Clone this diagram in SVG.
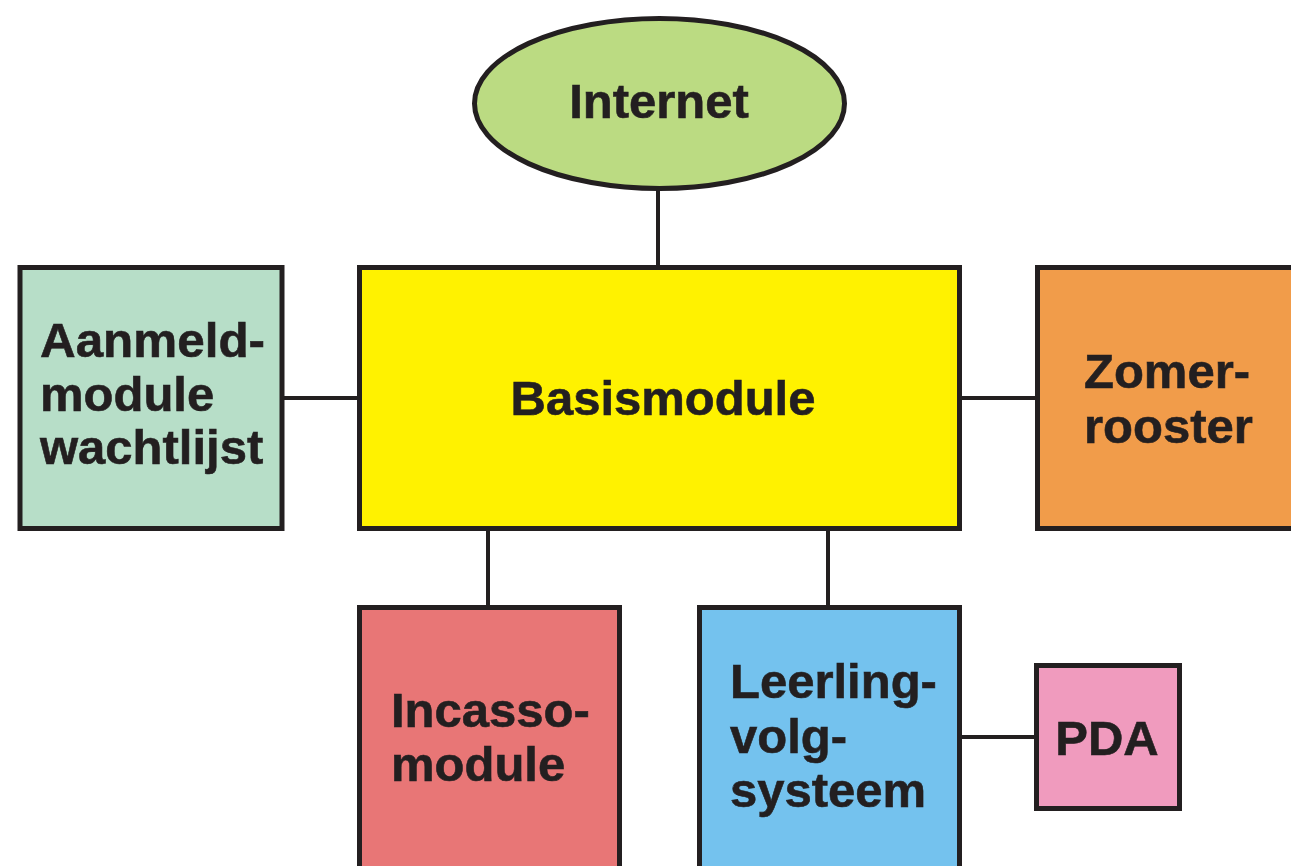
<svg xmlns="http://www.w3.org/2000/svg" width="1291" height="866" viewBox="0 0 1291 866">
<style>
.n{stroke:#231F20;stroke-width:5}
.c{stroke:#231F20;stroke-width:4;fill:none}
text{font-family:"Liberation Sans",Arial,sans-serif;font-weight:bold;font-size:49px;fill:#231F20;stroke:#231F20;stroke-width:0.6}
</style>
<rect width="1291" height="866" fill="#ffffff"/>
<g id="connectors">
<line class="c" x1="658" y1="190" x2="658" y2="267"/>
<line class="c" x1="282" y1="398" x2="359" y2="398"/>
<line class="c" x1="960" y1="398" x2="1037" y2="398"/>
<line class="c" x1="488" y1="529" x2="488" y2="607"/>
<line class="c" x1="828" y1="529" x2="828" y2="607"/>
<line class="c" x1="960" y1="737" x2="1036" y2="737"/>
</g>
<g id="internet">
<ellipse class="n" cx="659.5" cy="103.5" rx="185" ry="85" fill="#BBDB82"/>
<text x="659" y="118" text-anchor="middle">Internet</text>
</g>
<g id="basismodule">
<rect class="n" x="359.5" y="267.5" width="600" height="261" fill="#FFF200"/>
<text x="663" y="415" text-anchor="middle">Basismodule</text>
</g>
<g id="aanmeld">
<rect class="n" x="20" y="267.5" width="262" height="261" fill="#B7DEC8"/>
<text x="40" y="357" textLength="225" lengthAdjust="spacingAndGlyphs">Aanmeld-</text>
<text x="40" y="411">module</text>
<text x="40" y="464">wachtlijst</text>
</g>
<g id="zomerrooster">
<rect class="n" x="1037.5" y="267.5" width="260" height="261" fill="#F19C4A"/>
<text x="1084" y="388">Zomer-</text>
<text x="1084" y="443">rooster</text>
</g>
<g id="incasso">
<rect class="n" x="359.5" y="607.5" width="260" height="270" fill="#E87676"/>
<text x="391" y="727">Incasso-</text>
<text x="391" y="781">module</text>
</g>
<g id="leerling">
<rect class="n" x="699.5" y="607.5" width="260" height="270" fill="#74C2EE"/>
<text x="730" y="698">Leerling-</text>
<text x="730" y="753">volg-</text>
<text x="730" y="807">systeem</text>
</g>
<g id="pda">
<rect class="n" x="1036.5" y="665.5" width="143" height="143" fill="#F09BBE"/>
<text x="1107" y="755" text-anchor="middle">PDA</text>
</g>
</svg>
